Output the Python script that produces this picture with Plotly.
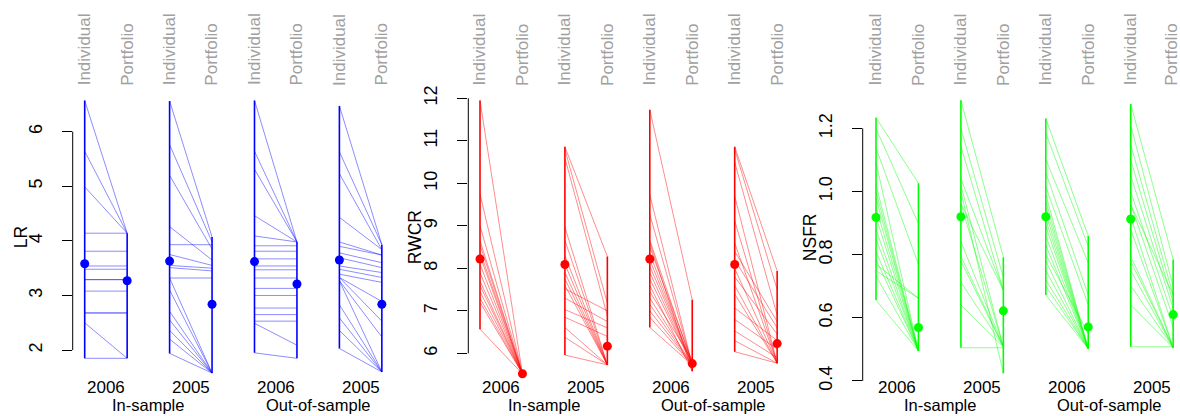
import plotly.graph_objects as go

# ----------------------------- data -----------------------------
GROUP_YEARS = ["2006", "2005", "2006", "2005"]
SAMPLES = ["In-sample", "Out-of-sample"]
COLUMN_LABELS = ["Individual", "Portfolio"]

# LR
LR_IN06_IND = [6.57, 5.64, 4.99, 4.14, 3.81, 3.54, 3.48, 3.29, 3.29, 3.08, 2.68, 2.68, 2.50, 1.85]
LR_IN06_PF = [4.14, 4.14, 4.14, 4.14, 3.81, 3.54, 3.48, 3.29, 3.29, 3.08, 2.68, 2.68, 1.85, 1.85]
LR_IN05_IND = [6.56, 5.76, 5.20, 4.26, 3.93, 3.75, 3.55, 3.51, 3.32, 3.32, 3.10, 2.71, 2.55, 2.36, 2.20, 1.94]
LR_IN05_PF = [4.07, 3.98, 3.85, 3.65, 3.93, 3.55, 3.50, 3.45, 3.32, 1.58, 1.58, 1.58, 1.58, 1.58, 1.58, 1.58]
LR_OUT06_IND = [6.57, 5.64, 5.31, 4.46, 4.09, 3.91, 3.81, 3.67, 3.54, 3.47, 3.32, 3.13, 3.00, 2.77, 2.65, 2.53, 2.49, 1.95]
LR_OUT06_PF = [3.98, 3.98, 3.98, 3.98, 3.98, 3.91, 3.81, 3.67, 3.54, 3.47, 3.32, 3.13, 3.00, 2.77, 2.65, 2.53, 2.09, 1.85]
LR_OUT05_IND = [6.47, 5.63, 5.23, 4.43, 3.98, 3.90, 3.78, 3.69, 3.54, 3.48, 3.39, 3.33, 3.33, 3.27, 3.27, 2.83, 2.59, 2.36, 2.03]
LR_OUT05_PF = [3.93, 3.93, 3.84, 3.84, 3.74, 3.74, 3.60, 3.51, 3.42, 3.33, 3.24, 2.89, 2.53, 2.24, 1.60, 1.60, 1.60, 1.60, 1.60]
LR_MEAN_IND = [3.58, 3.63, 3.62, 3.65]
LR_MEAN_PF = [3.27, 2.84, 3.21, 2.84]
LR_TICKS = [2, 3, 4, 5, 6]

# RWCR
RWCR_IN06_IND = [11.95, 9.75, 9.00, 8.65, 8.55, 8.40, 8.30, 8.10, 7.90, 7.70, 7.60, 7.45, 7.30, 7.20, 6.57]
RWCR_IN06_PF = [5.52, 5.52, 5.52, 5.52, 5.52, 5.52, 5.52, 5.52, 5.52, 5.52, 5.52, 5.52, 5.52, 5.52, 5.52]
RWCR_IN05_IND = [10.86, 10.80, 10.60, 8.97, 8.66, 8.30, 8.10, 7.90, 7.75, 7.60, 7.52, 7.30, 7.03, 6.85, 6.61, 6.38, 5.96]
RWCR_IN05_PF = [8.28, 7.18, 6.88, 5.73, 5.73, 5.73, 5.73, 5.73, 5.73, 5.73, 7.00, 6.75, 6.60, 6.40, 5.73, 5.73, 5.73]
RWCR_OUT06_IND = [11.73, 9.73, 9.27, 8.66, 8.60, 8.50, 8.35, 8.20, 8.05, 7.90, 7.75, 7.60, 7.45, 7.30, 7.15, 7.00, 6.85, 6.61]
RWCR_OUT06_PF = [7.26, 5.73, 5.73, 5.75, 5.58, 5.80, 5.73, 5.73, 5.75, 5.73, 5.73, 5.58, 5.85, 5.73, 5.73, 5.73, 5.73, 5.73]
RWCR_OUT05_IND = [10.86, 10.80, 10.50, 9.70, 9.12, 8.60, 8.40, 8.20, 8.00, 7.80, 7.60, 7.40, 7.07, 6.80, 6.53, 6.30, 6.04]
RWCR_OUT05_PF = [7.94, 7.50, 6.90, 5.77, 5.77, 5.77, 6.75, 6.60, 5.77, 6.45, 5.77, 5.77, 6.30, 6.10, 5.90, 5.77, 5.77]
RWCR_MEAN_IND = [8.22, 8.09, 8.22, 8.09]
RWCR_MEAN_PF = [5.52, 6.17, 5.76, 6.23]
RWCR_TICKS = [6, 7, 8, 9, 10, 11, 12]

# NSFR
NSFR_IN06_IND = [1.234, 1.200, 1.138, 1.092, 1.021, 1.000, 0.980, 0.950, 0.920, 0.880, 0.850, 0.810, 0.785, 0.770, 0.749, 0.733, 0.656]
NSFR_IN06_PF = [1.026, 0.898, 0.769, 0.495, 0.495, 0.495, 0.495, 0.495, 0.495, 0.495, 0.495, 0.495, 0.495, 0.662, 0.662, 0.495, 0.495]
NSFR_IN05_IND = [1.289, 1.200, 1.144, 1.041, 1.020, 1.000, 0.961, 0.961, 0.841, 0.795, 0.780, 0.713, 0.641, 0.505]
NSFR_IN05_PF = [0.792, 0.728, 0.687, 0.687, 0.508, 0.424, 0.687, 0.508, 0.508, 0.508, 0.508, 0.508, 0.508, 0.505]
NSFR_OUT06_IND = [1.231, 1.185, 1.102, 1.060, 1.015, 0.990, 0.970, 0.950, 0.930, 0.910, 0.890, 0.860, 0.830, 0.800, 0.780, 0.750, 0.720, 0.700, 0.672]
NSFR_OUT06_PF = [0.859, 0.826, 0.774, 0.672, 0.640, 0.502, 0.502, 0.502, 0.502, 0.502, 0.502, 0.502, 0.502, 0.550, 0.502, 0.502, 0.502, 0.502, 0.502]
NSFR_OUT05_IND = [1.277, 1.210, 1.149, 1.100, 1.051, 1.000, 0.959, 0.959, 0.920, 0.880, 0.795, 0.780, 0.750, 0.702, 0.641, 0.508]
NSFR_OUT05_PF = [0.785, 0.700, 0.672, 0.650, 0.630, 0.600, 0.672, 0.570, 0.505, 0.505, 0.505, 0.505, 0.505, 0.505, 0.505, 0.508]
NSFR_MEAN_IND = [0.918, 0.920, 0.920, 0.913]
NSFR_MEAN_PF = [0.569, 0.622, 0.571, 0.610]
NSFR_TICKS = [0.4, 0.6, 0.8, 1.0, 1.2]
NSFR_TICKTEXT = ["0.4", "0.6", "0.8", "1.0", "1.2"]

# ----------------------------- layout constants -----------------------------
W, H = 1180, 416
FONT = "Liberation Sans, Arial, Helvetica, sans-serif"
DX = 42.45          # px per x unit
PLOT_TOP, PLOT_BOT = 88, 390   # px

def py_to_paper(py):
    return 1 - py / H

panels = [
    dict(name="LR", color=(0, 0, 255), axis_px=72.7, x1_px=84.7, right_px=398,
         v_at=lambda py: 2 + (353.3 - py) / 56.25,
         groups=[(LR_IN06_IND, LR_IN06_PF), (LR_IN05_IND, LR_IN05_PF),
                 (LR_OUT06_IND, LR_OUT06_PF), (LR_OUT05_IND, LR_OUT05_PF)],
         mean_ind=LR_MEAN_IND, mean_pf=LR_MEAN_PF,
         ticks=LR_TICKS, ticktext=[str(t) for t in LR_TICKS], title_px=21),
    dict(name="RWCR", color=(255, 0, 0), axis_px=468.3, x1_px=480.0, right_px=792,
         v_at=lambda py: 12 - (py - 94) / 43.78,
         groups=[(RWCR_IN06_IND, RWCR_IN06_PF), (RWCR_IN05_IND, RWCR_IN05_PF),
                 (RWCR_OUT06_IND, RWCR_OUT06_PF), (RWCR_OUT05_IND, RWCR_OUT05_PF)],
         mean_ind=RWCR_MEAN_IND, mean_pf=RWCR_MEAN_PF,
         ticks=RWCR_TICKS, ticktext=[str(t) for t in RWCR_TICKS], title_px=415),
    dict(name="NSFR", color=(0, 255, 0), axis_px=862.7, x1_px=876.0, right_px=1180,
         v_at=lambda py: 1.2 - (py - 125) / 325,
         groups=[(NSFR_IN06_IND, NSFR_IN06_PF), (NSFR_IN05_IND, NSFR_IN05_PF),
                 (NSFR_OUT06_IND, NSFR_OUT06_PF), (NSFR_OUT05_IND, NSFR_OUT05_PF)],
         mean_ind=NSFR_MEAN_IND, mean_pf=NSFR_MEAN_PF,
         ticks=NSFR_TICKS, ticktext=NSFR_TICKTEXT, title_px=810),
]

fig = go.Figure()
annotations = []
shapes = []
layout_axes = {}

for i, p in enumerate(panels):
    n = "" if i == 0 else str(i + 1)
    xa, ya = "x" + n, "y" + n
    r, g, b = p["color"]
    solid = f"rgb({r},{g},{b})"
    faint = f"rgba({r},{g},{b},0.45)"

    for k, (ind, pf) in enumerate(p["groups"]):
        xi, xp = 2 * k + 1, 2 * k + 2
        for vi, vp in zip(ind, pf):
            fig.add_trace(go.Scatter(x=[xi, xp], y=[vi, vp], mode="lines",
                                     line=dict(color=faint, width=1),
                                     xaxis=xa, yaxis=ya, hoverinfo="skip", showlegend=False))
        fig.add_trace(go.Scatter(x=[xi, xi, None, xp, xp],
                                 y=[min(ind), max(ind), None, min(pf), max(pf)],
                                 mode="lines", line=dict(color=solid, width=1.6),
                                 xaxis=xa, yaxis=ya, hoverinfo="skip", showlegend=False))
    mx, my = [], []
    for k in range(4):
        mx += [2 * k + 1, 2 * k + 2]
        my += [p["mean_ind"][k], p["mean_pf"][k]]
    fig.add_trace(go.Scatter(x=mx, y=my, mode="markers",
                             marker=dict(color=solid, size=9, line=dict(width=0)),
                             xaxis=xa, yaxis=ya, hoverinfo="skip", showlegend=False))

    x_left = 1 + (p["axis_px"] - p["x1_px"]) / DX
    x_right = 1 + (p["right_px"] - p["x1_px"]) / DX
    y_lo = p["v_at"](PLOT_BOT)
    y_hi = p["v_at"](PLOT_TOP)

    layout_axes["xaxis" + n] = dict(domain=[p["axis_px"] / W, p["right_px"] / W],
                                    range=[x_left, x_right], visible=False, anchor=ya)
    layout_axes["yaxis" + n] = dict(domain=[py_to_paper(PLOT_BOT), py_to_paper(PLOT_TOP)],
                                    range=[y_lo, y_hi], anchor=xa,
                                    tickvals=p["ticks"], ticktext=p["ticktext"],
                                    ticks="outside", ticklen=10, tickwidth=1, tickcolor="black",
                                    ticklabelstandoff=13,
                                    tickangle=-90, tickfont=dict(size=18, color="black", family=FONT),
                                    showgrid=False, zeroline=False, showline=False)

    shapes.append(dict(type="line", xref=xa + " domain", yref=ya, x0=0, x1=0,
                       y0=p["ticks"][0], y1=p["ticks"][-1], line=dict(color="black", width=1)))

    annotations.append(dict(text=p["name"], xref="paper", yref="paper",
                            x=p["title_px"] / W, y=py_to_paper(237), textangle=-90,
                            showarrow=False, xanchor="center", yanchor="middle",
                            font=dict(size=17.5, color="black", family=FONT)))
    for k in range(4):
        for j, lab in enumerate(COLUMN_LABELS):
            edge = (i == 2 and k == 3 and j == 1)
            annotations.append(dict(text=lab, xref=xa, yref="paper", x=2 * k + 1 + j,
                                    y=py_to_paper(83), textangle=-90, showarrow=False,
                                    xanchor="center", yanchor="bottom",
                                    xshift=-2 if edge else 0,
                                    font=dict(size=17, color="#a0a0a0", family=FONT)))
        annotations.append(dict(text=GROUP_YEARS[k], xref=xa, yref="paper", x=2 * k + 1.5,
                                y=py_to_paper(391.5), showarrow=False, height=16,
                                xanchor="center", yanchor="middle",
                                font=dict(size=17, color="black", family=FONT)))
    for s, lab in enumerate(SAMPLES):
        annotations.append(dict(text=lab, xref=xa, yref="paper", x=4 * s + 2.5,
                                y=py_to_paper(409.5), showarrow=False, height=18,
                                xanchor="center", yanchor="middle",
                                font=dict(size=16.5, color="black", family=FONT)))

fig.update_layout(width=W, height=H, margin=dict(l=0, r=0, t=0, b=0),
                  plot_bgcolor="white", paper_bgcolor="white",
                  font=dict(family=FONT), showlegend=False,
                  annotations=annotations, shapes=shapes, **layout_axes)

fig.write_html("out.html")
